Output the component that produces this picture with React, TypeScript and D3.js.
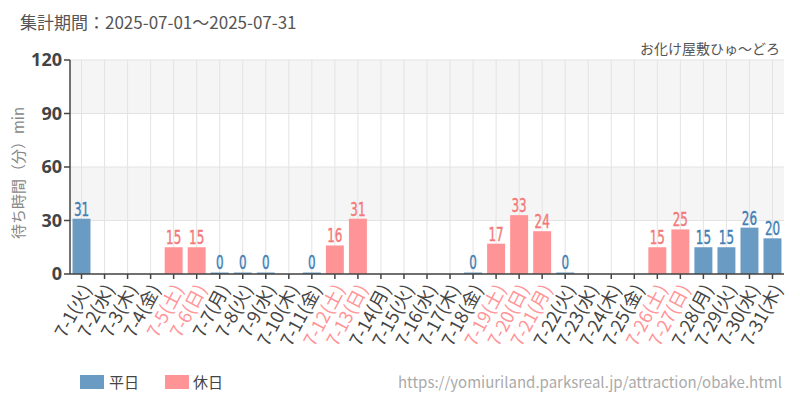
import React from "react";
import * as d3 from "d3";

const days = ["7-1","7-2","7-3","7-4","7-5","7-6","7-7","7-8","7-9","7-10","7-11","7-12","7-13","7-14","7-15","7-16","7-17","7-18","7-19","7-20","7-21","7-22","7-23","7-24","7-25","7-26","7-27","7-28","7-29","7-30","7-31"];
const weekdays = ["火","水","木","金","土","日","月","火","水","木","金","土","日","月","火","水","木","金","土","日","月","火","水","木","金","土","日","月","火","水","木"];
const holidays = [false,false,false,false,true,true,false,false,false,false,false,true,true,false,false,false,false,false,true,true,true,false,false,false,false,true,true,false,false,false,false];
const values: (number | null)[] = [31,null,null,null,15,15,0,0,0,null,0,16,31,null,null,null,null,0,17,33,24,0,null,null,null,15,25,15,15,26,20];
const yTicks = [0, 30, 60, 90, 120];

const W = 800, H = 400;
const M = { left: 70, right: 784, top: 60, bottom: 274 };
const BLUE = "#6a9bc3", RED = "#ff9497";
const BLUE_T = "#3f7fb5", RED_T = "#f47878";

export default function App() {
  const y = d3.scaleLinear().domain([0, 120]).range([M.bottom, M.top]);
  const x = d3.scalePoint<string>().domain(days).range([M.left, M.right]).padding(0.5);
  const step = x.step();
  const cx = (d: string) => x(d) as number;
  const bw = step * 0.78;
  const font = "'Noto Sans CJK JP', 'Noto Sans', sans-serif";
  return (
    <svg width={W} height={H} style={{ position: "absolute", left: 0, top: 0, background: "#fff" }} fontFamily={font}>
      <text x={20} y={29} fontSize={17} fill="#555">集計期間：2025-07-01～2025-07-31</text>
      <text x={780} y={54} fontSize={14} fill="#555" textAnchor="end">お化け屋敷ひゅ～どろ</text>
      {yTicks.slice(0, -1).map((t, i) => (i % 2 === 1 ? (
        <rect key={t} x={M.left} y={y(t + 30)} width={M.right - M.left} height={y(t) - y(t + 30)} fill="#f5f5f5" />
      ) : null))}
      {yTicks.map(t => (
        <line key={t} x1={M.left} x2={M.right} y1={y(t)} y2={y(t)} stroke="#e3e3e3" strokeWidth={1} />
      ))}
      {days.map(d => (
        <line key={d} x1={cx(d)} x2={cx(d)} y1={M.top} y2={M.bottom} stroke="#e3e3e3" strokeWidth={1} />
      ))}
      {days.map((d, i) => {
        const v = values[i];
        if (v === null) return null;
        const h = Math.max(y(0) - y(v), 1.5);
        const c = holidays[i] ? RED : BLUE;
        return (
          <g key={d}>
            <rect x={cx(d) - bw / 2} y={y(0) - h} width={bw} height={h} fill={c} />
            <text x={cx(d)} y={y(0) - h - 3} textAnchor="middle" fontSize={19}
              fontFamily="'DejaVu Sans Condensed', 'DejaVu Sans', sans-serif" fontStretch="condensed"
              stroke={holidays[i] ? RED_T : BLUE_T} strokeWidth={0.4}
              transform={`translate(${cx(d)},0) scale(0.7,1) translate(${-cx(d)},0)`}
              fill={holidays[i] ? RED_T : BLUE_T}>{v}</text>
          </g>
        );
      })}
      <line x1={M.left} x2={M.left} y1={M.top} y2={M.bottom} stroke="#444" strokeWidth={1.5} />
      <line x1={M.left} x2={M.right} y1={M.bottom} y2={M.bottom} stroke="#444" strokeWidth={1.5} />
      {yTicks.map(t => (
        <g key={t}>
          <line x1={M.left - 6} x2={M.left} y1={y(t)} y2={y(t)} stroke="#444" strokeWidth={1.5} />
          <text x={M.left - 8} y={y(t)} dy="0.35em" textAnchor="end" fontSize={18} fontWeight="bold" fill="#444"
            fontFamily="'Noto Sans', sans-serif">{t}</text>
        </g>
      ))}
      {days.map((d, i) => (
        <g key={d}>
          <line x1={cx(d)} x2={cx(d)} y1={M.bottom} y2={M.bottom + 5} stroke="#444" strokeWidth={1.5} />
          <text transform={`translate(${cx(d) + 5},${M.bottom + 12}) rotate(-62)`} textAnchor="end" dy="0.35em"
            fontSize={18} fill={holidays[i] ? "#ff9497" : "#444"}>{`${d}(${weekdays[i]})`}</text>
        </g>
      ))}
      <text transform={`translate(24,${(M.top + M.bottom) / 2 + 6}) rotate(-90)`} textAnchor="middle" fontSize={15} fill="#888">待ち時間（分）min</text>
      <rect x={80} y={375} width={24} height={14} fill={BLUE} />
      <text x={109} y={388} fontSize={15} fill="#444">平日</text>
      <rect x={165} y={375} width={24} height={14} fill={RED} />
      <text x={193} y={388} fontSize={15} fill="#444">休日</text>
      <text x={782} y={388} fontSize={15} fill="#aaa" textAnchor="end">https://yomiuriland.parksreal.jp/attraction/obake.html</text>
    </svg>
  );
}
